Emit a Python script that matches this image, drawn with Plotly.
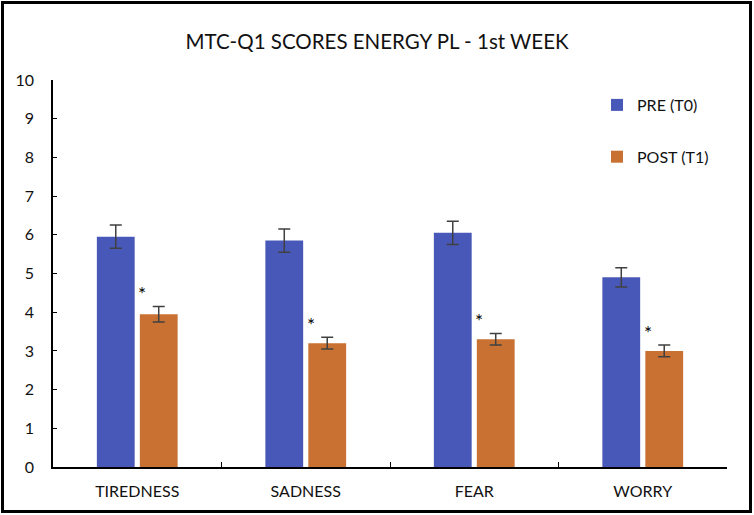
import plotly.graph_objects as go

# data
categories = ['TIREDNESS', 'SADNESS', 'FEAR', 'WORRY']
pre_values = [5.95, 5.85, 6.05, 4.9]
pre_errors = [0.3, 0.3, 0.3, 0.25]
post_values = [3.95, 3.2, 3.3, 3.0]
post_errors = [0.2, 0.15, 0.15, 0.15]
significance = ['*', '*', '*', '*']

COLORS = {
    'pre': '#4858B8',
    'post': '#C87132',
    'err': '#404040',
    'text': '#111111',
}

W, H = 754, 515
M = dict(l=53, r=27, t=80, b=48)
plot_w = W - M['l'] - M['r']
plot_h = H - M['t'] - M['b']

fig = go.Figure()

fig.add_trace(go.Bar(
    x=categories, y=pre_values, name='PRE (T0)',
    marker_color=COLORS['pre'], marker_line_width=0,
    error_y=dict(type='data', array=pre_errors, color=COLORS['err'], thickness=1.5, width=6),
    legendgroup='pre',
))
fig.add_trace(go.Bar(
    x=categories, y=post_values, name='POST (T1)',
    marker_color=COLORS['post'], marker_line_width=0,
    error_y=dict(type='data', array=post_errors, color=COLORS['err'], thickness=1.5, width=6),
    legendgroup='post',
))

# significance markers above the POST bars
for cat, v, e, s in zip(categories, post_values, post_errors, significance):
    fig.add_annotation(
        x=cat, y=v + e + 0.33, text=s, showarrow=False,
        xshift=5, font=dict(size=19, color='black'),
    )

# outer frame around the whole picture
def px_to_paper_x(px):
    return (px - M['l']) / plot_w

def px_to_paper_y(py):
    return (H - M['b'] - py) / plot_h

fig.add_shape(
    type='rect', xref='paper', yref='paper', layer='above', opacity=1,
    x0=px_to_paper_x(2.5), x1=px_to_paper_x(750.5),
    y0=px_to_paper_y(511.5), y1=px_to_paper_y(2.5),
    line=dict(color='#000000', width=3), fillcolor='rgba(0,0,0,0)',
)

fig.update_layout(
    width=W, height=H,
    template='simple_white',
    paper_bgcolor='white', plot_bgcolor='white',
    font=dict(family='Lato, "Open Sans", sans-serif', color=COLORS['text'], size=16),
    title=dict(
        text='MTC-Q1 SCORES ENERGY PL - 1st WEEK',
        font=dict(size=20.5, color=COLORS['text']),
        x=0.5, xanchor='center', y=0.918, yanchor='middle',
    ),
    margin=M,
    barmode='group', bargap=0.49, bargroupgap=0.12,
    showlegend=True,
    legend=dict(
        x=px_to_paper_x(597), y=px_to_paper_y(88), xanchor='left', yanchor='top',
        bgcolor='rgba(0,0,0,0)', font=dict(size=16),
        tracegroupgap=28,
    ),
)
fig.update_xaxes(
    showline=True, linecolor='black', linewidth=1.5,
    ticks='inside', tickson='boundaries', ticklen=5, tickcolor='black',
    tickfont=dict(size=16), showgrid=False,
    ticklabelstandoff=9,
)
fig.update_yaxes(
    range=[0, 10], dtick=1,
    showline=True, linecolor='black', linewidth=1.5,
    ticks='inside', ticklen=4, tickcolor='black',
    tickfont=dict(size=16), showgrid=False, zeroline=False,
    ticklabelstandoff=14,
)

fig.write_html('out.html', config={'displayModeBar': False},
               post_script="document.body.style.margin='0';")
